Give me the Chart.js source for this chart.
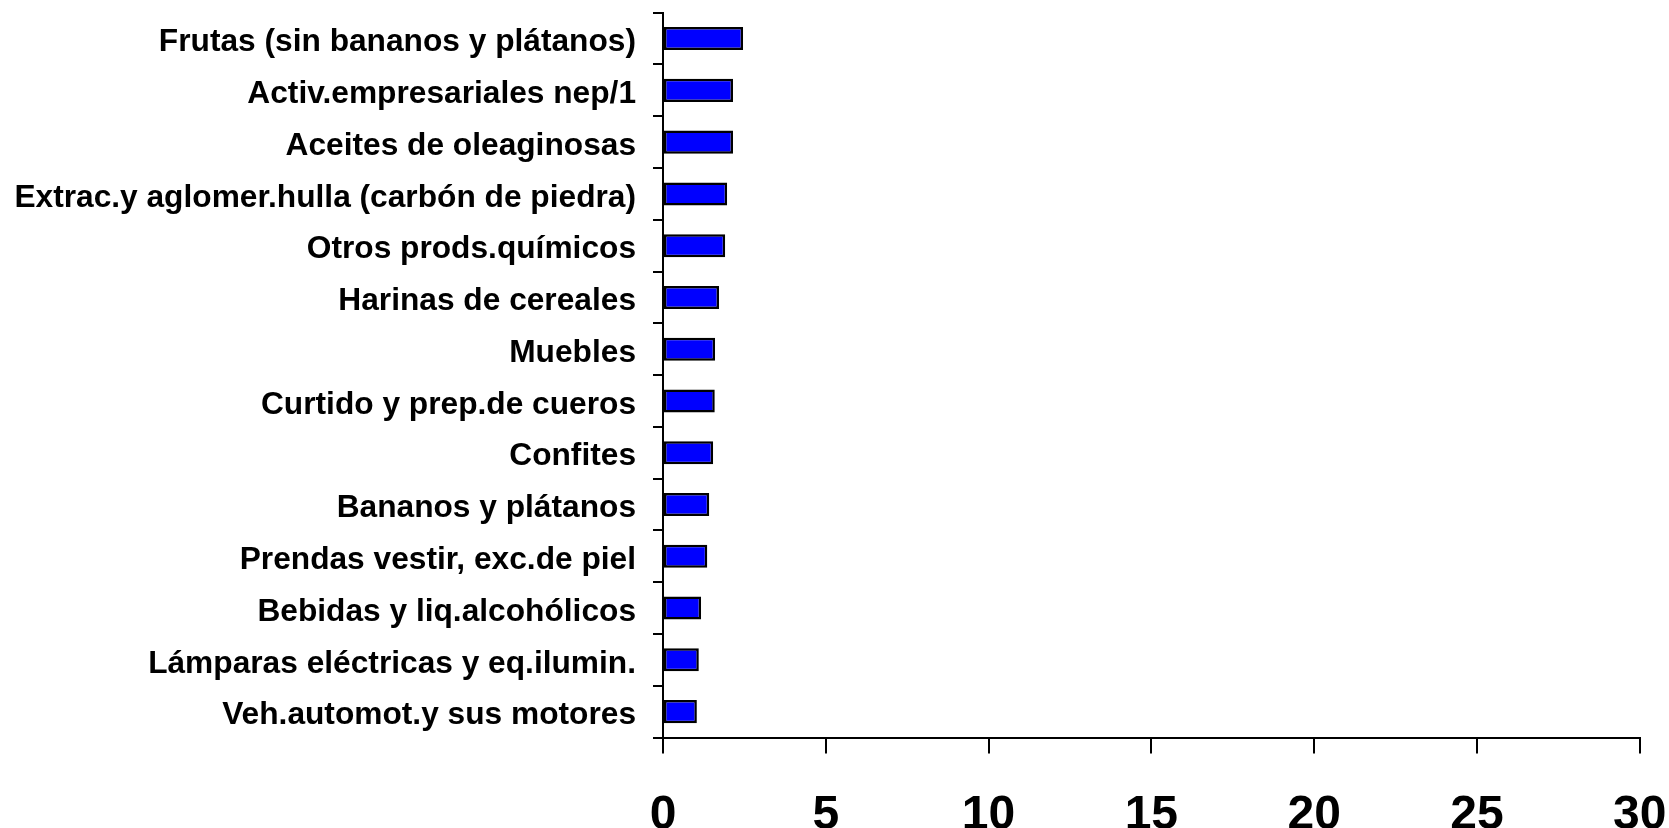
<!DOCTYPE html>
<html>
<head>
<meta charset="utf-8">
<script src="https://cdn.jsdelivr.net/npm/chart.js@4.4.0/dist/chart.umd.min.js"></script>
<style>
  html, body { margin: 0; padding: 0; background: #ffffff; overflow: hidden; }
  #chart { display: block; }
</style>
</head>
<body>
<canvas id="chart" width="1669" height="828"></canvas>
<script>
// categories, top to bottom
const categories = [
    'Frutas (sin bananos y plátanos)',
    'Activ.empresariales nep/1',
    'Aceites de oleaginosas',
    'Extrac.y aglomer.hulla (carbón de piedra)',
    'Otros prods.químicos',
    'Harinas de cereales',
    'Muebles',
    'Curtido y prep.de cueros',
    'Confites',
    'Bananos y plátanos',
    'Prendas vestir, exc.de piel',
    'Bebidas y liq.alcohólicos',
    'Lámparas eléctricas y eq.ilumin.',
    'Veh.automot.y sus motores'
];
const values = [2.46, 2.15, 2.15, 1.97, 1.91, 1.72, 1.60, 1.59, 1.54, 1.42, 1.36, 1.17, 1.10, 1.04];
const xMin = 0;
const xMax = 30;
const xStep = 5;

Chart.defaults.font.family = 'Arial, "Liberation Sans", sans-serif';
Chart.defaults.color = '#000000';

const ctx = document.getElementById('chart').getContext('2d');
new Chart(ctx, {
    type: 'bar',
    data: {
        labels: categories,
        datasets: [{
            data: values,
            backgroundColor: '#0000ff',
            borderColor: '#000000',
            borderWidth: 2.5,
            borderSkipped: false,
            categoryPercentage: 1,
            barPercentage: 0.445
        }]
    },
    options: {
        indexAxis: 'y',
        responsive: false,
        animation: false,
        devicePixelRatio: 1,
        layout: {
            padding: { top: 12.7, right: 29.3, bottom: 0, left: 0 }
        },
        plugins: {
            legend: { display: false },
            tooltip: { enabled: false }
        },
        scales: {
            x: {
                min: xMin,
                max: xMax,
                ticks: {
                    stepSize: xStep,
                    padding: 33,
                    font: { size: 48, weight: 'bold' },
                    color: '#000000'
                },
                grid: {
                    drawOnChartArea: false,
                    drawTicks: true,
                    tickLength: 16,
                    color: '#000000',
                    lineWidth: 2
                },
                border: { display: true, color: '#000000', width: 2 },
                afterFit: function (scale) {
                    scale.height = 828 - 737.5; // labels run past the bottom edge
                    scale.paddingLeft = 0;
                    scale.paddingRight = 0;
                }
            },
            y: {
                ticks: {
                    padding: 17,
                    labelOffset: 4,
                    font: { size: 31.7, weight: 'bold' },
                    color: '#000000'
                },
                grid: {
                    drawOnChartArea: false,
                    drawTicks: true,
                    tickLength: 10,
                    color: '#000000',
                    lineWidth: 2
                },
                border: { display: true, color: '#000000', width: 2 },
                afterFit: function (scale) {
                    scale.width = 663;
                    scale.paddingTop = 0;
                    scale.paddingBottom = 0;
                }
            }
        }
    }
});
</script>
</body>
</html>
